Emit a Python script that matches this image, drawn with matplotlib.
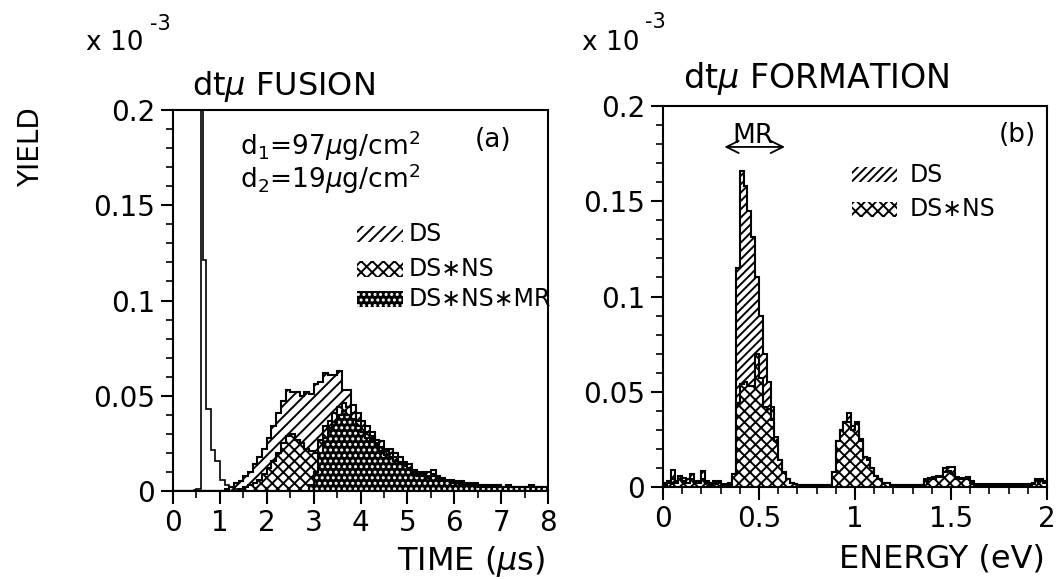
import numpy as np
import matplotlib
matplotlib.use("Agg")
import matplotlib.pyplot as plt
from matplotlib.patches import Rectangle
from matplotlib.ticker import MultipleLocator

plt.rcParams['font.family'] = ['DejaVu Sans']
plt.rcParams['mathtext.fontset'] = 'dejavusans'
plt.rcParams['hatch.linewidth'] = 1.4

# yields are in units of 1e-3

# (a) fusion time spectra, 0.1 us bins from 0 to 8 us
time_edges = np.linspace(0, 8, 81)
ds_time = [0] * 11 + [
    0.001, 0.002, 0.004, 0.005, 0.008, 0.010, 0.014, 0.018, 0.022,            # 1.1-1.9
    0.028, 0.034, 0.041, 0.047, 0.053, 0.052, 0.052, 0.050, 0.052, 0.051,     # 2.0-2.9
    0.056, 0.057, 0.062, 0.061, 0.061, 0.063, 0.053, 0.053, 0.045, 0.041,     # 3.0-3.9
    0.037, 0.034, 0.031, 0.027, 0.026, 0.022, 0.022, 0.020, 0.018, 0.015,     # 4.0-4.9
    0.014, 0.011, 0.010, 0.010, 0.010, 0.011, 0.008, 0.007, 0.006, 0.006,     # 5.0-5.9
    0.005, 0.005, 0.004, 0.004, 0.004, 0.003, 0.003, 0.003, 0.003, 0.003,     # 6.0-6.9
    0.002, 0.003, 0.002, 0.002, 0.002, 0.002, 0.003, 0.002, 0.002, 0.002]     # 7.0-7.9
dsns_time = [0] * 14 + [
    0.001, 0.002, 0.003, 0.004, 0.006, 0.009,                                 # 1.4-1.9
    0.012, 0.016, 0.020, 0.025, 0.029, 0.030, 0.027, 0.025, 0.022, 0.021,     # 2.0-2.9
    0.020, 0.027, 0.034, 0.037, 0.041, 0.044, 0.046, 0.044, 0.041, 0.037,     # 3.0-3.9
    0.034, 0.031, 0.029, 0.025, 0.023, 0.021, 0.020, 0.018, 0.015, 0.014,     # 4.0-4.9
    0.012, 0.010, 0.009, 0.009, 0.008, 0.009, 0.007, 0.006, 0.005, 0.005,     # 5.0-5.9
    0.004, 0.004, 0.004, 0.003, 0.003, 0.003, 0.003, 0.002, 0.002, 0.002,     # 6.0-6.9
    0.002, 0.002, 0.002, 0.002, 0.002, 0.002, 0.002, 0.002, 0.002, 0.002]     # 7.0-7.9
mr_time = [0] * 29 + [
    0.003,                                                                    # 2.9
    0.010, 0.020, 0.028, 0.033, 0.036, 0.040, 0.042, 0.040, 0.038, 0.034,     # 3.0-3.9
    0.031, 0.028, 0.026, 0.023, 0.021, 0.019, 0.018, 0.016, 0.014, 0.013,     # 4.0-4.9
    0.011, 0.009, 0.008, 0.008, 0.007, 0.008, 0.006, 0.005, 0.005, 0.004,     # 5.0-5.9
    0.004, 0.003, 0.003, 0.003, 0.003, 0.002, 0.002, 0.002, 0.002, 0.002,     # 6.0-6.9
    0.002, 0.002, 0.002, 0.002, 0.002, 0.002, 0.002, 0.002, 0.002, 0.002]     # 7.0-7.9

# prompt peak (all events), 0.05 us bins from 0 to 1.5 us
prompt_edges = np.linspace(0, 1.5, 31)
prompt_time = [0] * 9 + [
    0.0005, 0.001, 0.001, 0.40, 0.121, 0.043, 0.043, 0.0215, 0.0215, 0.016, 0.016,
    0.006, 0.006, 0.003, 0.003, 0.002, 0.002, 0.001, 0.001, 0.0005, 0.0]

# (b) formation energy spectra, 0.02 eV bins from 0 to 2 eV
energy_edges = np.linspace(0, 2, 101)
ds_energy = [
    0.002, 0.003, 0.009, 0.003, 0.006, 0.0045, 0.004, 0.007, 0.003, 0.003,    # 0.00-0.18
    0.0086, 0.003, 0.002, 0.003, 0.003, 0.0015, 0.0015, 0.002, 0.007, 0.115,  # 0.20-0.38
    0.166, 0.158, 0.145, 0.131, 0.110, 0.090, 0.070, 0.055, 0.042, 0.026,     # 0.40-0.58
    0.014, 0.008, 0.004, 0.002, 0.0015, 0.001, 0.001, 0.001, 0.001, 0.001,    # 0.60-0.78
    0.001, 0.001, 0.001, 0.001, 0.008, 0.024, 0.030, 0.034, 0.039, 0.032,     # 0.80-0.98
    0.034, 0.025, 0.016, 0.015, 0.010, 0.006, 0.004, 0.002, 0.002, 0.001,     # 1.00-1.18
    0.001, 0.001, 0.001, 0.001, 0.001, 0.001, 0.001, 0.001, 0.004, 0.0045,    # 1.20-1.38
    0.005, 0.006, 0.006, 0.0098, 0.0103, 0.0103, 0.005, 0.0045, 0.0045, 0.005, # 1.40-1.58
    0.003, 0.0015, 0.0015, 0.0015, 0.0015, 0.0015, 0.0015, 0.0015, 0.0015, 0.0015,  # 1.60-1.78
    0.0015, 0.0015, 0.0015, 0.0015, 0.0015, 0.0015, 0.002, 0.004, 0.004, 0.003]     # 1.80-1.98
dsns_energy = [
    0.001, 0.002, 0.004, 0.002, 0.004, 0.003, 0.002, 0.004, 0.002, 0.002,     # 0.00-0.18
    0.004, 0.002, 0.001, 0.002, 0.002, 0.001, 0.001, 0.001, 0.007, 0.044,     # 0.20-0.38
    0.054, 0.055, 0.053, 0.053, 0.070, 0.057, 0.042, 0.041, 0.035, 0.024,     # 0.40-0.58
    0.014, 0.008, 0.004, 0.002, 0.0015, 0.001, 0.001, 0.001, 0.001, 0.001,    # 0.60-0.78
    0.001, 0.001, 0.001, 0.001, 0.008, 0.024, 0.030, 0.034, 0.034, 0.030,     # 0.80-0.98
    0.033, 0.024, 0.016, 0.014, 0.010, 0.006, 0.004, 0.002, 0.002, 0.001,     # 1.00-1.18
    0.001, 0.001, 0.001, 0.001, 0.001, 0.001, 0.001, 0.001, 0.003, 0.004,     # 1.20-1.38
    0.004, 0.005, 0.005, 0.008, 0.0085, 0.007, 0.004, 0.004, 0.004, 0.004,    # 1.40-1.58
    0.002, 0.001, 0.001, 0.001, 0.001, 0.001, 0.001, 0.001, 0.001, 0.001,     # 1.60-1.78
    0.001, 0.001, 0.001, 0.001, 0.001, 0.001, 0.0015, 0.003, 0.003, 0.002]    # 1.80-1.98

ytick_vals = [0, 0.05, 0.1, 0.15, 0.2]
ytick_labels = ['0', '0.05', '0.1', '0.15', '0.2']

W, H = 1059, 579
def px(x, y):
    return x / W, 1 - y / H

fig = plt.figure(figsize=(W / 100, H / 100), dpi=100)
ax1 = fig.add_axes([173 / W, 1 - 491 / H, 375 / W, 381 / H])
ax2 = fig.add_axes([663 / W, 1 - 487 / H, 384 / W, 381 / H])

LW = 1.5
DS_HATCH_A = '///'
DS_HATCH_B = '////'
NS_HATCH = 'xxx'
MR_HATCH = '...'


def dense_fill(ax, vals, edges):
    # black with small white dots, then a black outline
    ax.stairs(vals, edges, fill=True, facecolor='black', edgecolor='white',
              hatch=MR_HATCH, linewidth=0)
    ax.stairs(vals, edges, color='black', linewidth=LW)


# panel (a)
ax1.stairs(ds_time, time_edges, fill=True, facecolor='white', edgecolor='black',
           hatch=DS_HATCH_A, linewidth=LW)
ax1.stairs(dsns_time, time_edges, fill=True, facecolor='white', edgecolor='black',
           hatch=NS_HATCH, linewidth=LW)
dense_fill(ax1, mr_time, time_edges)
ax1.stairs(prompt_time, prompt_edges, color='black', linewidth=1.2)
ax1.set_xlim(0, 8)
ax1.xaxis.set_major_locator(MultipleLocator(1))
ax1.xaxis.set_minor_locator(MultipleLocator(0.5))

# panel (b)
ax2.stairs(ds_energy, energy_edges, fill=True, facecolor='white', edgecolor='black',
           hatch=DS_HATCH_B, linewidth=LW)
ax2.stairs(dsns_energy, energy_edges, fill=True, facecolor='white', edgecolor='black',
           hatch=NS_HATCH, linewidth=LW)
ax2.set_xlim(0, 2)
ax2.set_xticks([0, 0.5, 1, 1.5, 2])
ax2.set_xticklabels(['0', '0.5', '1', '1.5', '2'])
ax2.xaxis.set_minor_locator(MultipleLocator(0.1))

for ax in (ax1, ax2):
    ax.set_ylim(0, 0.2)
    ax.set_yticks(ytick_vals)
    ax.set_yticklabels(ytick_labels)
    ax.yaxis.set_minor_locator(MultipleLocator(0.01))
    ax.tick_params(which='both', direction='out', top=False, right=False,
                   labelsize=20)
    ax.tick_params(which='major', length=9, width=1.5, pad=4)
    ax.tick_params(which='minor', length=5, width=1.2)
    for s in ax.spines.values():
        s.set_linewidth(1.5)

# labels
fig.text(*px(31, 147), 'YIELD', rotation=90, fontsize=20, ha='center', va='center')
fig.text(*px(86, 50), 'x 10', fontsize=19, ha='left', va='baseline')
fig.text(*px(150, 30), '-3', fontsize=15, ha='left', va='baseline')
fig.text(*px(582, 50), 'x 10', fontsize=19, ha='left', va='baseline')
fig.text(*px(645, 28), '-3', fontsize=15, ha='left', va='baseline')
fig.text(*px(192, 95), r'dt$\mu$ FUSION', fontsize=23, ha='left', va='baseline')
fig.text(*px(683, 88), r'dt$\mu$ FORMATION', fontsize=24, ha='left', va='baseline')
fig.text(*px(545, 570), r'TIME ($\mu$s)', fontsize=23, ha='right', va='baseline')
fig.text(*px(1045, 568), 'ENERGY (eV)', fontsize=23, ha='right', va='baseline')

# panel (a) annotations
ax1.text(0.179, 0.882, r'd$_1$=97$\mu$g/cm$^2$', transform=ax1.transAxes,
         fontsize=19, va='baseline')
ax1.text(0.179, 0.795, r'd$_2$=19$\mu$g/cm$^2$', transform=ax1.transAxes,
         fontsize=19, va='baseline')
ax1.text(0.853, 0.921, '(a)', transform=ax1.transAxes, fontsize=19,
         ha='center', va='center')

legend_a = [(DS_HATCH_A, 'white', 'DS', 0.654), (NS_HATCH, 'white', 'DS\u2217NS', 0.562),
            (MR_HATCH, 'black', 'DS\u2217NS\u2217MR', 0.483)]
for hatch, fc, label, y0 in legend_a:
    ec = 'white' if fc == 'black' else 'black'
    ax1.add_patch(Rectangle((0.491, y0), 0.122, 0.042, transform=ax1.transAxes,
                            facecolor=fc, edgecolor=ec, hatch=hatch, linewidth=0))
    ax1.text(0.628, y0 + 0.021, label, transform=ax1.transAxes, fontsize=17,
             va='center')

# panel (b) annotations
ax2.text(0.922, 0.924, '(b)', transform=ax2.transAxes, fontsize=19,
         ha='center', va='center')
ax2.annotate('', xy=(0.32, 0.1785), xytext=(0.635, 0.1785),
             arrowprops=dict(arrowstyle='<->', lw=1.3, color='black',
                             mutation_scale=22, shrinkA=0, shrinkB=0))
ax2.text(0.47, 0.1772, 'MR', fontsize=19, ha='center', va='bottom')

legend_b = [(DS_HATCH_B, 'DS', 0.80), (NS_HATCH, 'DS\u2217NS', 0.709)]
for hatch, label, y0 in legend_b:
    ax2.add_patch(Rectangle((0.492, y0), 0.117, 0.04, transform=ax2.transAxes,
                            facecolor='white', edgecolor='black', hatch=hatch,
                            linewidth=0))
    ax2.text(0.643, y0 + 0.02, label, transform=ax2.transAxes, fontsize=17,
             va='center')

fig.savefig('out.png', dpi=100)
